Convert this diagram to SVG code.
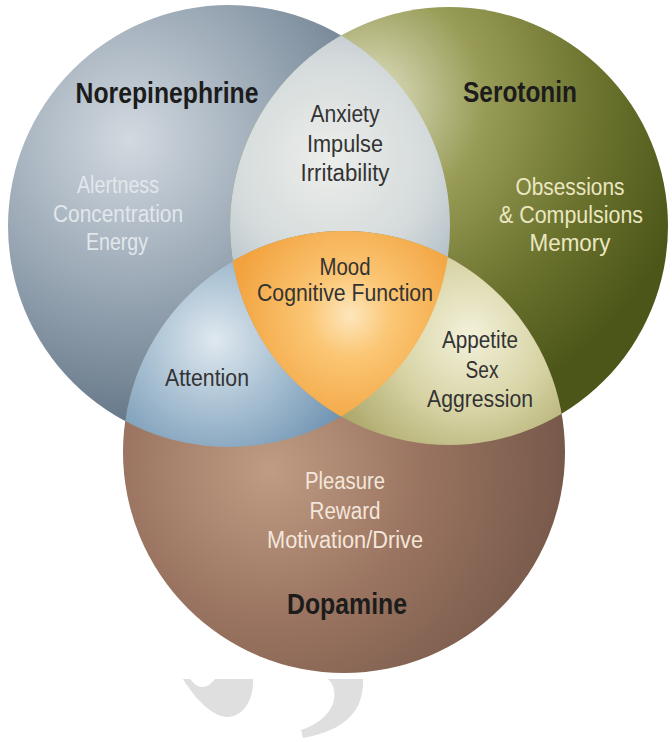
<svg xmlns="http://www.w3.org/2000/svg" width="672" height="742" viewBox="0 0 672 742">
  <style>
    .h { font-family: "Liberation Sans", Arial, sans-serif; font-weight: bold; font-size: 29px; fill: #1c1c1c; text-anchor: middle; }
    .t { font-family: "Liberation Sans", Arial, sans-serif; font-size: 23px; text-anchor: middle; }
    .dark { fill: #333333; }
    .lb { fill: #e2e7ec; }
    .lo { fill: #ebe7c2; }
    .lr { fill: #f4e6da; }
  </style>
  <defs>
    <radialGradient id="gNE" gradientUnits="userSpaceOnUse" cx="130" cy="140" r="330">
      <stop offset="0" stop-color="#d2d9e0"/>
      <stop offset="0.45" stop-color="#9aa8b5"/>
      <stop offset="1" stop-color="#55687a"/>
    </radialGradient>
    <radialGradient id="gS" gradientUnits="userSpaceOnUse" cx="370" cy="100" r="330">
      <stop offset="0" stop-color="#e2e2c6"/>
      <stop offset="0.35" stop-color="#979b55"/>
      <stop offset="0.7" stop-color="#6a722d"/>
      <stop offset="1" stop-color="#4c5618"/>
    </radialGradient>
    <radialGradient id="gD" gradientUnits="userSpaceOnUse" cx="270" cy="470" r="300">
      <stop offset="0" stop-color="#c09c84"/>
      <stop offset="0.5" stop-color="#9a7460"/>
      <stop offset="1" stop-color="#76584a"/>
    </radialGradient>
    <radialGradient id="gNS" gradientUnits="userSpaceOnUse" cx="330" cy="160" r="170">
      <stop offset="0" stop-color="#eceeea"/>
      <stop offset="0.6" stop-color="#d4dadb"/>
      <stop offset="1" stop-color="#a9b8c2"/>
    </radialGradient>
    <radialGradient id="gND" gradientUnits="userSpaceOnUse" cx="215" cy="340" r="150">
      <stop offset="0" stop-color="#dfe8ef"/>
      <stop offset="0.5" stop-color="#a4bdd0"/>
      <stop offset="1" stop-color="#6d91b0"/>
    </radialGradient>
    <radialGradient id="gSD" gradientUnits="userSpaceOnUse" cx="470" cy="335" r="150">
      <stop offset="0" stop-color="#f3f1da"/>
      <stop offset="0.5" stop-color="#d8d4a6"/>
      <stop offset="1" stop-color="#aca86a"/>
    </radialGradient>
    <radialGradient id="gT" gradientUnits="userSpaceOnUse" cx="350" cy="315" r="120">
      <stop offset="0" stop-color="#fde6bc"/>
      <stop offset="0.35" stop-color="#fbc674"/>
      <stop offset="1" stop-color="#f2a23e"/>
    </radialGradient>
    <clipPath id="cNE"><circle cx="229" cy="226" r="221"/></clipPath>
    <clipPath id="cS"><circle cx="449" cy="226" r="219"/></clipPath>
  </defs>

  <rect x="0" y="0" width="672" height="742" fill="#ffffff"/>

  <g id="watermark" fill="#dfdfdf">
    <path d="M183,679 L190,679 Q197,688 203,687 Q210,686 215,679 L253,679 C254,700 243,717 227,717 C212,716 196,700 183,679 Z"/>
    <path d="M328,679 L363,679 C364,712 345,730 303,738 L301,730 C325,722 337,706 334,690 C333,685 331,682 328,679 Z"/>
  </g>

  <g id="norepinephrine">
    <circle cx="229" cy="226" r="221" fill="url(#gNE)"/>
  </g>
  <g id="serotonin">
    <circle cx="449" cy="226" r="219" fill="url(#gS)"/>
  </g>
  <g id="dopamine">
    <circle cx="344" cy="452" r="221" fill="url(#gD)"/>
  </g>

  <g id="ne-s-overlap" clip-path="url(#cNE)">
    <circle cx="449" cy="226" r="219" fill="url(#gNS)"/>
  </g>
  <g id="ne-d-overlap" clip-path="url(#cNE)">
    <circle cx="344" cy="452" r="221" fill="url(#gND)"/>
  </g>
  <g id="s-d-overlap" clip-path="url(#cS)">
    <circle cx="344" cy="452" r="221" fill="url(#gSD)"/>
  </g>
  <g id="all-overlap" clip-path="url(#cNE)">
    <g clip-path="url(#cS)">
      <circle cx="344" cy="452" r="221" fill="url(#gT)"/>
    </g>
  </g>

  <g id="labels">
    <g id="label-norepinephrine">
      <text class="h" x="167" y="103" textLength="183" lengthAdjust="spacingAndGlyphs">Norepinephrine</text>
      <text class="t lb" x="118" y="193" textLength="82" lengthAdjust="spacingAndGlyphs">Alertness</text>
      <text class="t lb" x="118" y="222" textLength="130" lengthAdjust="spacingAndGlyphs">Concentration</text>
      <text class="t lb" x="117" y="250" textLength="62" lengthAdjust="spacingAndGlyphs">Energy</text>
    </g>
    <g id="label-serotonin">
      <text class="h" x="520" y="102" textLength="114" lengthAdjust="spacingAndGlyphs">Serotonin</text>
      <text class="t lo" x="570" y="195" textLength="109" lengthAdjust="spacingAndGlyphs">Obsessions</text>
      <text class="t lo" x="571" y="223" textLength="144" lengthAdjust="spacingAndGlyphs">&amp; Compulsions</text>
      <text class="t lo" x="570" y="251" textLength="81" lengthAdjust="spacingAndGlyphs">Memory</text>
    </g>
    <g id="label-dopamine">
      <text class="h" x="347" y="614" textLength="120" lengthAdjust="spacingAndGlyphs">Dopamine</text>
      <text class="t lr" x="345" y="489" textLength="80" lengthAdjust="spacingAndGlyphs">Pleasure</text>
      <text class="t lr" x="345" y="519" textLength="71" lengthAdjust="spacingAndGlyphs">Reward</text>
      <text class="t lr" x="345" y="548" textLength="156" lengthAdjust="spacingAndGlyphs">Motivation/Drive</text>
    </g>
    <g id="label-ne-s">
      <text class="t dark" x="345" y="122" textLength="69" lengthAdjust="spacingAndGlyphs">Anxiety</text>
      <text class="t dark" x="345" y="152" textLength="76" lengthAdjust="spacingAndGlyphs">Impulse</text>
      <text class="t dark" x="345" y="181" textLength="89" lengthAdjust="spacingAndGlyphs">Irritability</text>
    </g>
    <g id="label-all">
      <text class="t dark" x="345" y="275" textLength="51" lengthAdjust="spacingAndGlyphs">Mood</text>
      <text class="t dark" x="345" y="301" textLength="176" lengthAdjust="spacingAndGlyphs">Cognitive Function</text>
    </g>
    <g id="label-ne-d">
      <text class="t dark" x="207" y="386" textLength="84" lengthAdjust="spacingAndGlyphs">Attention</text>
    </g>
    <g id="label-s-d">
      <text class="t dark" x="480" y="348" textLength="76" lengthAdjust="spacingAndGlyphs">Appetite</text>
      <text class="t dark" x="482" y="378" textLength="33" lengthAdjust="spacingAndGlyphs">Sex</text>
      <text class="t dark" x="480" y="407" textLength="106" lengthAdjust="spacingAndGlyphs">Aggression</text>
    </g>
  </g>
</svg>
